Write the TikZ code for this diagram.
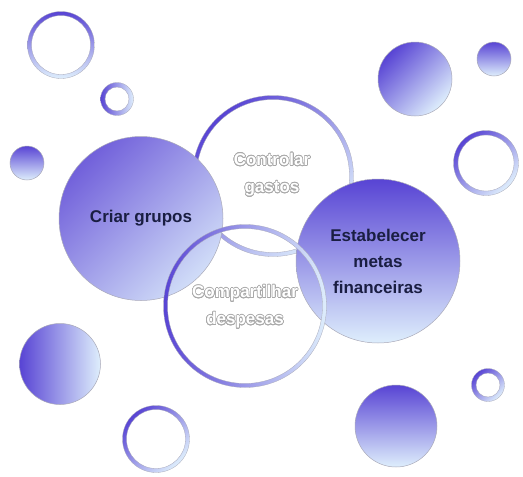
\documentclass[tikz,border=0pt]{standalone}
\usepackage{fontspec}
\setmainfont{Liberation Sans}
\usepackage[copies]{contour}
\contourlength{0.6pt}
\contournumber{24}
\definecolor{dk}{RGB}{88,68,212}
\definecolor{lt}{RGB}{222,238,252}
\definecolor{txt}{RGB}{26,30,66}
\definecolor{edge}{RGB}{170,170,185}
\definecolor{olc}{RGB}{168,168,168}
\tikzset{
  ball/.style={draw=edge, line width=0.5pt},
  lbl/.style={font=\fontsize{17}{26}\selectfont\bfseries, text=txt, align=center},
  olbl/.style={font=\fontsize{17}{27}\selectfont\bfseries, align=center},
}
\newcommand{\ringshade}[4]{%
  \shade[even odd rule, left color=dk, right color=lt, shading angle=#4, draw=edge, line width=0.3pt]
    (#1) circle (#2) (#1) circle ({#2-#3});%
}
\newcommand{\ol}[1]{\contour{olc}{\textcolor{white}{#1}}}
\begin{document}
\begin{tikzpicture}[x=1pt,y=-1pt]
\useasboundingbox (0,0) rectangle (523,477);
% small decorations
\ringshade{61,45}{33.5}{4}{0}
\ringshade{117,99}{16.5}{4.5}{90}
\shade[ball, left color=dk, right color=lt, shading angle=0] (27,163) circle (17);
\shade[ball, left color=dk, right color=lt, shading angle=45] (415,79) circle (37);
\shade[ball, left color=dk, right color=lt, shading angle=0] (494,59) circle (17);
\ringshade{486,163}{32.5}{4.5}{45}
\shade[ball, left color=dk, right color=lt, shading angle=90] (60,364) circle (40.5);
\ringshade{156,439}{33.5}{4}{45}
\shade[ball, left color=dk, right color=lt, shading angle=0] (396,426) circle (41);
\ringshade{488,385}{16.5}{4.5}{45}
% Controlar gastos ring
\ringshade{273,176}{80.5}{4}{45}
\node[olbl] (ctrl) at (272,175) {\ol{Controlar}\\\ol{gastos}};
% Criar grupos
\shade[ball, left color=dk!85!white, right color=lt!90!dk, shading angle=45] (141,218.5) circle (82);
\node[lbl] (criar) at (141,218) {Criar grupos};
% Estabelecer metas financeiras
\shade[ball, left color=dk, right color=lt, shading angle=0] (378,261) circle (82);
\node[lbl] (metas) at (378,261) {Estabelecer\\metas\\financeiras};
% Compartilhar despesas ring
\ringshade{245,306}{81.5}{4}{90}
\node[olbl] (comp) at (245,307) {\ol{Compartilhar}\\\ol{despesas}};
\end{tikzpicture}
\end{document}
